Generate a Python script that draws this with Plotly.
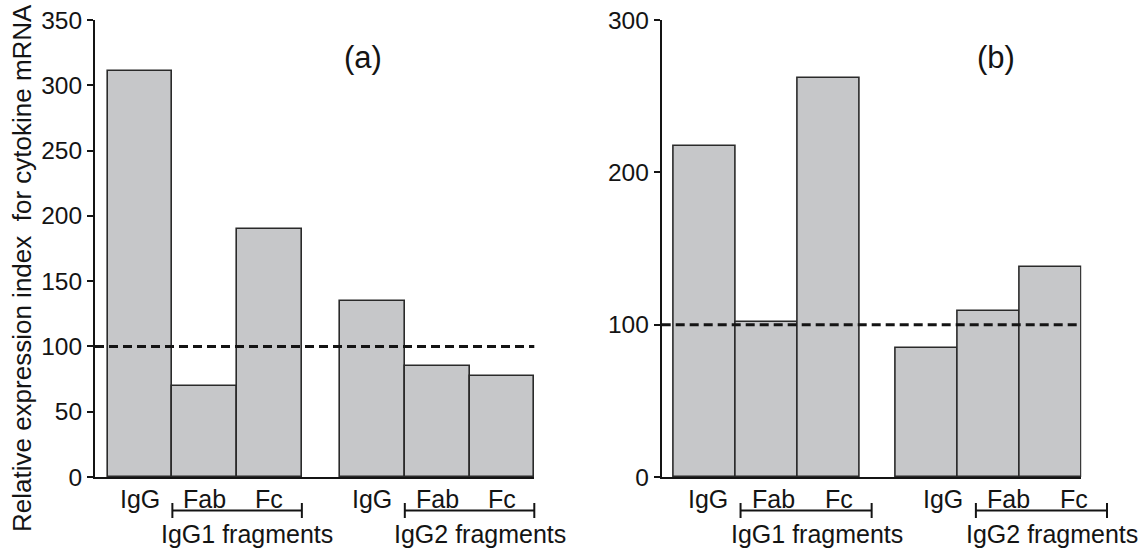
import plotly.graph_objects as go

# Bar categories and grouping
categories = ["IgG", "Fab", "Fc", "IgG", "Fab", "Fc"]
groups = [0, 0, 0, 1, 1, 1]
group_names = ["IgG1 fragments", "IgG2 fragments"]

# Relative expression index for cytokine mRNA
values_a = [311, 70, 190, 135, 85, 77]
values_b = [217, 102, 262, 85, 109, 138]
baseline = 100

panel_titles = ["(a)", "(b)"]
y_ticks_a = [0, 50, 100, 150, 200, 250, 300, 350]
y_ticks_b = [0, 100, 200, 300]

W, H = 1147, 550
FONT = "Liberation Sans, Arial, sans-serif"
INK = "#141414"
FILL = "#c6c7c9"

GAP = 0.59  # extra space between the two antibody groups (in bar widths)
xpos = [i + GAP * g for i, g in enumerate(groups)]
XRANGE = [-0.695, xpos[-1] + 0.5]

# pixel layout of the two panels
dom_a = (95 / W, 534.3 / W)
dom_b = (661.7 / W, 1081.3 / W)
plot_top, plot_bottom = 20, 477
ydom = ((H - plot_bottom) / H, (H - plot_top) / H)


def py(px):
    return (H - px) / H


def to_paper(dom, x):
    return dom[0] + (x - XRANGE[0]) / (XRANGE[1] - XRANGE[0]) * (dom[1] - dom[0])


fig = go.Figure()
for vals, xa, ya in [(values_a, "x", "y"), (values_b, "x2", "y2")]:
    fig.add_trace(go.Bar(
        x=xpos, y=vals, width=1.0, xaxis=xa, yaxis=ya,
        marker=dict(color=FILL, line=dict(color="#2a2a2a", width=1.6)),
        showlegend=False, hoverinfo="x+y",
    ))

axis_common = dict(showline=True, linecolor=INK, linewidth=2, showgrid=False,
                   zeroline=False, mirror=False, automargin=False)
fig.update_layout(
    template="none",
    width=W, height=H, margin=dict(l=0, r=0, t=0, b=0, pad=0, autoexpand=False),
    plot_bgcolor="white", paper_bgcolor="white",
    font=dict(family=FONT, color=INK),
    showlegend=False,
    bargap=0,
    xaxis=dict(domain=dom_a, range=XRANGE, showticklabels=False, ticks="",
               anchor="y", **axis_common),
    yaxis=dict(domain=ydom, range=[0, 350], tickvals=y_ticks_a, ticks="outside",
               ticklen=6, tickwidth=2, tickcolor=INK, tickfont=dict(size=24.5),
               anchor="x", **axis_common),
    xaxis2=dict(domain=dom_b, range=XRANGE, showticklabels=False, ticks="",
                anchor="y2", **axis_common),
    yaxis2=dict(domain=ydom, range=[0, 300], tickvals=y_ticks_b, ticks="outside",
                ticklen=6, tickwidth=2, tickcolor=INK, tickfont=dict(size=24.5),
                anchor="x2", **axis_common),
)

# dashed reference line at the control level
for xa, ya in [("x", "y"), ("x2", "y2")]:
    fig.add_shape(type="line", xref=f"{xa} domain", yref=ya, x0=0, x1=1,
                  y0=baseline, y1=baseline,
                  line=dict(color=INK, width=3, dash="9px,5px"))

# y-axis title
fig.add_annotation(text="Relative expression index\u00a0 for cytokine mRNA",
                   xref="paper", yref="paper", x=22 / W, y=py(268),
                   textangle=-90, showarrow=False, font=dict(size=26),
                   xanchor="center", yanchor="middle")

# panel letters
for title, cx in zip(panel_titles, [363, 996]):
    fig.add_annotation(text=title, xref="paper", yref="paper", x=cx / W, y=py(57),
                       showarrow=False, font=dict(size=31),
                       xanchor="center", yanchor="middle")

# category labels, fragment brackets and group names below each panel
# (panel b's labels sit on a slightly stretched layout)
label_maps = [(dom_a, 1.0, 0.0), (dom_b, 1.06, 0.05)]
for dom, k, s in label_maps:
    lx = [p * k + s for p in xpos]
    for cat, x in zip(categories, lx):
        fig.add_annotation(text=cat, xref="paper", yref="paper",
                           x=to_paper(dom, x), y=py(499), showarrow=False,
                           font=dict(size=25), xanchor="center", yanchor="middle")
    for g, name in enumerate(group_names):
        idx = [i for i, gg in enumerate(groups) if gg == g]
        x0 = to_paper(dom, (xpos[idx[1]] - 0.5) * k + s)
        x1 = to_paper(dom, (xpos[idx[2]] + 0.5) * k + s)
        yb = py(510.5)
        fig.add_shape(type="line", xref="paper", yref="paper", x0=x0, x1=x1,
                      y0=yb, y1=yb, line=dict(color=INK, width=2))
        for xe in (x0, x1):
            fig.add_shape(type="line", xref="paper", yref="paper", x0=xe, x1=xe,
                          y0=py(503), y1=py(518), line=dict(color=INK, width=2))
        gx = to_paper(dom, (xpos[idx[1]] + 0.66) * k + s)
        fig.add_annotation(text=name, xref="paper", yref="paper", x=gx, y=py(534),
                           showarrow=False, font=dict(size=25),
                           xanchor="center", yanchor="middle")

fig.write_html("out.html")
